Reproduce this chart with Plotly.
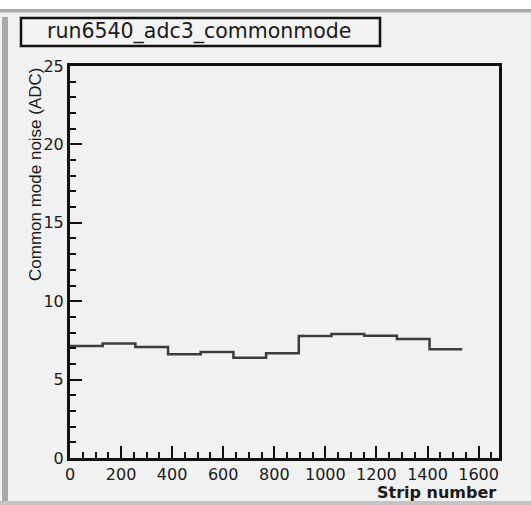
import plotly.graph_objects as go

# Data
bin_edges = [0, 128, 256, 384, 512, 640, 768, 896, 1024, 1152, 1280, 1408, 1536]
noise = [7.15, 7.31, 7.08, 6.62, 6.76, 6.40, 6.68, 7.78, 7.91, 7.80, 7.59, 6.93]
title_text = "run6540_adc3_commonmode"
x_title = "Strip number"
y_title = "Common mode noise (ADC)"

W, H = 531, 505
L, R, T, B = 70, 499, 66, 458  # plot area pixel box


def px(x):
    return (x - L) / (R - L)


def py(y):
    return (B - y) / (B - T)


fig = go.Figure()
fig.add_trace(go.Scatter(
    x=bin_edges,
    y=noise + [noise[-1]],
    mode="lines",
    line=dict(shape="hv", color="#3c3c3c", width=2.5),
    hoverinfo="skip",
    showlegend=False,
))

font = "DejaVu Sans, Liberation Sans, Arial, sans-serif"
bg = "#f1f1f1"

axis_common = dict(
    showgrid=False, zeroline=False,
    showline=True, linecolor="#111", linewidth=3, mirror=True,
    ticks="inside", tickcolor="#111", tickwidth=2, ticklen=12,
    tickfont=dict(family=font, size=16, color="#1a1a1a"),
)

fig.update_xaxes(
    range=[0, 1680], tickmode="linear", tick0=0, dtick=200,
    minor=dict(ticks="inside", dtick=50, ticklen=6, tickcolor="#111", tickwidth=2),
    **axis_common,
)
fig.update_yaxes(
    range=[0, 25], tickmode="linear", tick0=0, dtick=5,
    minor=dict(ticks="inside", dtick=1, ticklen=6, tickcolor="#111", tickwidth=2),
    **axis_common,
)

shapes = [
    # top white band and gray line
    dict(type="rect", xref="paper", yref="paper", x0=px(0), x1=px(W), y0=py(0), y1=py(9),
         fillcolor="white", line=dict(width=0), layer="below"),
    dict(type="rect", xref="paper", yref="paper", x0=px(0), x1=px(W), y0=py(9), y1=py(12.5),
         fillcolor="#a9a9a9", line=dict(width=0), layer="below"),
    # left gray bar
    dict(type="rect", xref="paper", yref="paper", x0=px(2), x1=px(8), y0=py(17), y1=py(505),
         fillcolor="#a8a8a8", line=dict(width=0), layer="below"),
    # bottom gray line
    dict(type="rect", xref="paper", yref="paper", x0=px(0), x1=px(W), y0=py(501), y1=py(505),
         fillcolor="#c4c4c4", line=dict(width=0), layer="below"),
    # title box
    dict(type="rect", xref="paper", yref="paper", x0=px(21), x1=px(380), y0=py(46), y1=py(18),
         fillcolor="#f3f3f3", line=dict(color="#111", width=2.5)),
]

annotations = [
    dict(text=title_text, xref="paper", yref="paper", x=px(199), y=py(32),
         xanchor="center", yanchor="middle", showarrow=False,
         font=dict(family=font, size=20.5, color="#1a1a1a")),
    dict(text="<b>" + x_title + "</b>", xref="paper", yref="paper", x=px(498), y=py(493),
         xanchor="right", yanchor="middle", showarrow=False,
         font=dict(family=font, size=16, color="#1a1a1a")),
    dict(text=y_title, xref="paper", yref="paper", x=px(36), y=py(65),
         xanchor="center", yanchor="top", textangle=-90, showarrow=False,
         font=dict(family="Liberation Sans, Arial, sans-serif", size=17, color="#1a1a1a")),
]

fig.update_layout(
    width=W, height=H,
    margin=dict(l=L, r=W - R, t=T, b=H - B),
    paper_bgcolor=bg, plot_bgcolor=bg,
    shapes=shapes, annotations=annotations,
    showlegend=False,
)

fig.write_html(
    "out.html",
    config={"displayModeBar": False, "staticPlot": True},
    post_script="document.body.style.margin='0';document.body.style.overflow='hidden';",
)
